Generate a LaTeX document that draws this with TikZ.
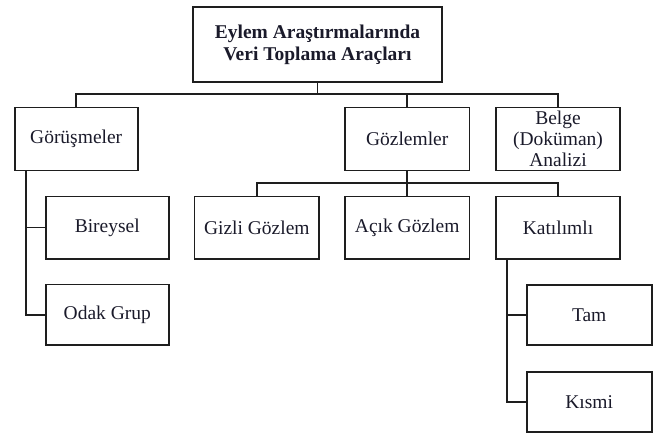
\documentclass[tikz,border=0pt]{standalone}
\usepackage{fontspec}
\setmainfont{Liberation Serif}
\definecolor{ink}{HTML}{1E1E1E}
\definecolor{txt}{HTML}{1A1A2A}
\begin{document}
\begin{tikzpicture}[x=1pt,y=1pt,
  box/.style={draw=ink, line width=1.8pt, inner sep=0pt, align=center,
    text=txt, font=\fontsize{19.5}{21.5}\selectfont,
    minimum width=124.5pt, minimum height=62pt},
  link/.style={draw=ink, line width=1.8pt}]
\useasboundingbox (0,0) rectangle (670,-433);
% nodes
\node[box, minimum width=249pt, minimum height=75pt, font=\bfseries\fontsize{19.5}{22}\selectfont]
  (top) at (317.5,-44.5) {Eylem Araştırmalarında\\Veri Toplama Araçları};
\node[box, minimum width=123pt, minimum height=63pt] (gor) at (76.2,-139) {Görüşmeler};
\node[box, minimum height=63pt] (goz) at (407.2,-139) {Gözlemler};
\node[box, minimum height=63pt, font=\fontsize{19.5}{21}\selectfont] (belge) at (558,-139) {Belge\\(Doküman)\\Analizi};
\node[box, minimum width=123.3pt] (bir) at (107.3,-227.6) {Bireysel};
\node[box, minimum width=123.3pt, minimum height=60.5pt] (odak) at (107.3,-314.7) {Odak Grup};
\node[box] (gizli) at (256.8,-227.6) {Gizli Gözlem};
\node[box] (acik) at (407.2,-227.6) {Açık Gözlem};
\node[box] (kat) at (558,-227.6) {Katılımlı};
\node[box, minimum width=125pt, minimum height=60pt] (tam) at (589.2,-315) {Tam};
\node[box, minimum width=125pt, minimum height=60.3pt] (kismi) at (589.2,-401.85) {Kısmi};
% buses
\coordinate (b1) at (317.5,-94.3);
\coordinate (b2) at (407.2,-182.7);
\coordinate (gx) at ([xshift=12.3pt]gor.south west);
\coordinate (kx) at ([xshift=12pt]kat.south west);
% connectors
\draw[link] (top.south) -- (b1);
\draw[link] (gor.north) |- (b1) -| (belge.north);
\draw[link] (goz.north) -- (goz.north |- b1);
\draw[link] (goz.south) -- (acik.north);
\draw[link] (gizli.north) |- (b2) -| (kat.north);
\draw[link] (gx) |- (odak.west);
\draw[link] (bir.west) -- (bir.west -| gx);
\draw[link] (kx) |- (kismi.west);
\draw[link] (tam.west) -- (tam.west -| kx);
\end{tikzpicture}
\end{document}
